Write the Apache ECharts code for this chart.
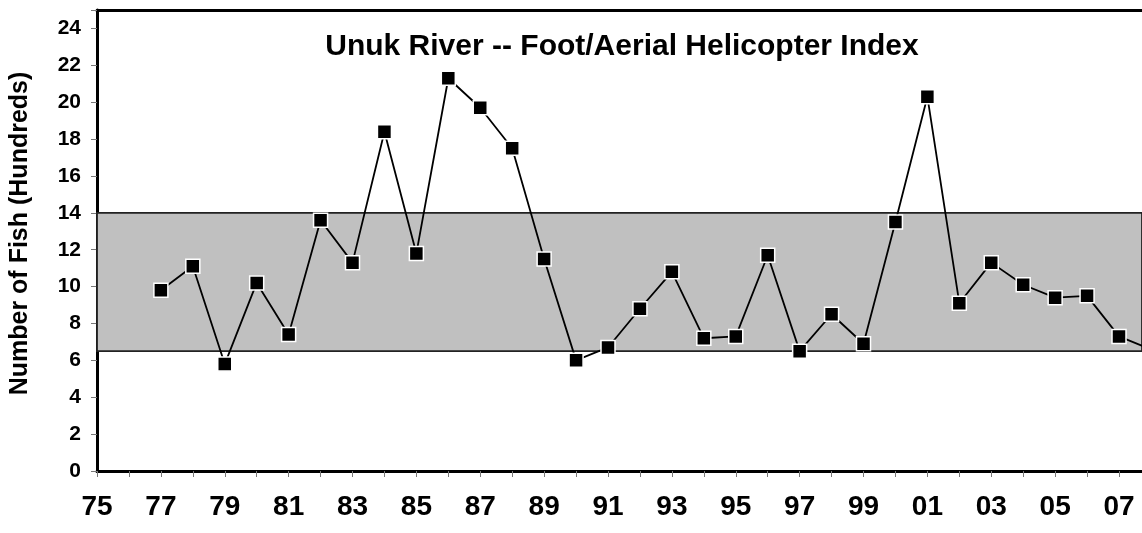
<!DOCTYPE html>
<html>
<head>
<meta charset="utf-8">
<script src="https://cdn.jsdelivr.net/npm/echarts@6/dist/echarts.min.js"></script>
<style>
  * { margin: 0; padding: 0; }
  html, body { width: 100%; height: 100%; background: #fff; }
  #main { width: 1142px; height: 533px; }
</style>
</head>
<body>
<div id="main"></div>
<script>
// years and fish counts (hundreds)
var years = [1977, 1978, 1979, 1980, 1981, 1982, 1983, 1984, 1985, 1986, 1987, 1988, 1989,
             1990, 1991, 1992, 1993, 1994, 1995, 1996, 1997, 1998, 1999,
             2000, 2001, 2002, 2003, 2004, 2005, 2006, 2007, 2008];
var fish = [9.8, 11.1, 5.8, 10.2, 7.4, 13.6, 11.3, 18.4, 11.8, 21.3, 19.7, 17.5, 11.5,
            6.0, 6.7, 8.8, 10.8, 7.2, 7.3, 11.7, 6.5, 8.5, 6.9,
            13.5, 20.3, 9.1, 11.3, 10.1, 9.4, 9.5, 7.3, 6.6];
// normal range band
var bandLow = 6.5;
var bandHigh = 14;

var points = years.map(function (y, i) { return [y, fish[i]]; });

var font = 'Liberation Sans, Arial';
var myChart = echarts.init(document.getElementById('main'));
var option = {
    animation: false,
    backgroundColor: '#fff',
    title: {
        text: 'Unuk River -- Foot/Aerial Helicopter Index',
        left: 617,
        top: 27,
        textAlign: 'center',
        textStyle: { fontFamily: font, fontSize: 30, fontWeight: 'bold', color: '#000' }
    },
    grid: {
        left: 97,
        right: 0,
        top: 10,
        bottom: 62,
        outerBoundsMode: 'none'
    },
    xAxis: [{
        type: 'value',
        min: 1975,
        max: 2007.72,
        interval: 1,
        splitLine: { show: false },
        axisLine: { lineStyle: { color: '#000', width: 3 } },
        axisTick: { length: 6, lineStyle: { color: '#777', width: 1 } },
        axisLabel: {
            margin: 22,
            showMaxLabel: false,
            fontFamily: font,
            fontSize: 28,
            fontWeight: 'bold',
            color: '#000',
            formatter: function (v) {
                if (v % 2 === 0 || v % 1 !== 0) return '';
                var s = String(v % 100);
                return s.length < 2 ? '0' + s : s;
            }
        }
    }, {
        // top border of the plot
        type: 'value',
        position: 'top',
        min: 1975,
        max: 2007.72,
        splitLine: { show: false },
        axisLine: { lineStyle: { color: '#000', width: 3 } },
        axisTick: { show: false },
        axisLabel: { show: false }
    }],
    yAxis: {
        type: 'value',
        min: 0,
        max: 25,
        interval: 2,
        name: 'Number of Fish (Hundreds)',
        nameLocation: 'middle',
        nameGap: 64,
        nameTextStyle: { fontFamily: font, fontSize: 25, fontWeight: 'bold', color: '#000', padding: [0, 0, 0, 14] },
        splitLine: { show: false },
        axisLine: { lineStyle: { color: '#000', width: 3 } },
        axisTick: { length: 6, lineStyle: { color: '#777', width: 1 } },
        axisLabel: {
            margin: 16,
            fontFamily: font,
            fontSize: 21,
            fontWeight: 'bold',
            color: '#000',
            formatter: function (v) { return v % 2 === 0 ? String(v) : ''; }
        }
    },
    series: [{
        type: 'line',
        data: points,
        symbol: 'rect',
        symbolSize: 14,
        z: 5,
        lineStyle: { color: '#000', width: 1.8 },
        itemStyle: { color: '#000', borderColor: '#fff', borderWidth: 1.5 },
        markArea: {
            silent: true,
            itemStyle: { color: '#c0c0c0', borderColor: '#222', borderWidth: 1.8 },
            data: [[{ yAxis: bandLow }, { yAxis: bandHigh }]]
        }
    }]
};
myChart.setOption(option);
</script>
</body>
</html>
